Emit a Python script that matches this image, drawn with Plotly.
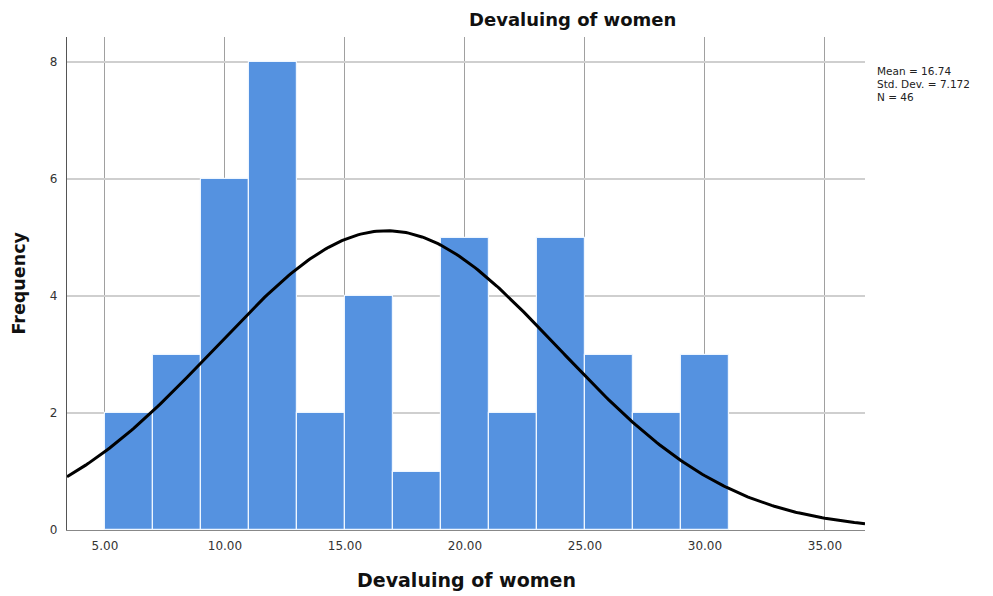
import numpy as np
import plotly.graph_objects as go

# Data
bin_starts = [5, 7, 9, 11, 13, 15, 17, 19, 21, 23, 25, 27, 29]
bin_width = 2
frequencies = [2, 3, 6, 8, 2, 4, 1, 5, 2, 5, 3, 2, 3]
mean_val = 16.74
std_val = 7.172
n_val = 46
x_ticks = [5, 10, 15, 20, 25, 30, 35]
x_tick_labels = ["5.00", "10.00", "15.00", "20.00", "25.00", "30.00", "35.00"]
y_ticks = [0, 2, 4, 6, 8]
stat_lines = [f"Mean = {mean_val:.2f}", f"Std. Dev. = {std_val:.3f}", f"N = {n_val}"]

x_range = [3.42, 36.67]
y_range = [0, 8.43]

# page body has an 8px margin; figure sized to fit the window
W, H = 985, 588
L, R, T, B = 59, 128, 29, 66
plot_h = H - T - B
plot_w = W - L - R

centers = [s + bin_width / 2 for s in bin_starts]

fig = go.Figure()
fig.add_trace(go.Bar(
    x=centers, y=frequencies, width=[bin_width] * len(centers),
    marker=dict(color="#5592e0", line=dict(color="#eef6ff", width=1.2)),
    showlegend=False, hoverinfo="x+y",
))

# Fitted normal curve from displayed statistics
xc = np.linspace(x_range[0], x_range[1], 300)
yc = n_val * bin_width / (std_val * np.sqrt(2 * np.pi)) * np.exp(-0.5 * ((xc - mean_val) / std_val) ** 2)
fig.add_trace(go.Scatter(x=xc, y=yc, mode="lines",
                         line=dict(color="black", width=3),
                         showlegend=False, hoverinfo="skip"))

annotations = [
    dict(text="<b>Devaluing of women</b>", xref="paper", yref="paper",
         x=(564 - L) / plot_w, y=1 + (T - 12) / plot_h, xanchor="center", yanchor="middle",
         showarrow=False, font=dict(family="DejaVu Sans", size=18, color="#111")),
    dict(text="<b>Devaluing of women</b>", xref="paper", yref="paper",
         x=0.5, y=-50 / plot_h, xanchor="center", yanchor="middle",
         showarrow=False, font=dict(family="DejaVu Sans", size=19, color="#111")),
    dict(text="<b>Frequency</b>", xref="paper", yref="paper", textangle=-90,
         x=-(L - 10) / plot_w, y=0.5, xanchor="center", yanchor="middle",
         showarrow=False, font=dict(family="DejaVu Sans", size=17.5, color="#111")),
]
for i, line in enumerate(stat_lines):
    yp = 71 + 13 * i - 8  # figure px
    annotations.append(dict(
        text=line, xref="paper", yref="paper",
        x=(867 - L) / plot_w, y=1 - (yp - T) / plot_h,
        xanchor="left", yanchor="middle", align="left", showarrow=False,
        font=dict(family="DejaVu Sans", size=10.5, color="#222")))

fig.update_layout(
    width=W, height=H,
    margin=dict(l=L, r=R, t=T, b=B, autoexpand=False),
    paper_bgcolor="white", plot_bgcolor="white",
    font=dict(family="DejaVu Sans", color="#222"),
    bargap=0,
    xaxis=dict(range=x_range, tickvals=x_ticks, ticktext=x_tick_labels,
               showgrid=True, gridcolor="#a0a0a0", gridwidth=1,
               showline=True, linecolor="#888", linewidth=1,
               ticks="", ticklabelstandoff=5, tickfont=dict(size=12, color="#333"), zeroline=False),
    yaxis=dict(range=y_range, tickvals=y_ticks,
               showgrid=True, gridcolor="#cfcfcf", gridwidth=1.5,
               showline=True, linecolor="#555", linewidth=1.2,
               ticks="", ticklabelstandoff=6, tickfont=dict(size=12, color="#333"), zeroline=False),
    annotations=annotations,
)

fig.write_html("out.html")
